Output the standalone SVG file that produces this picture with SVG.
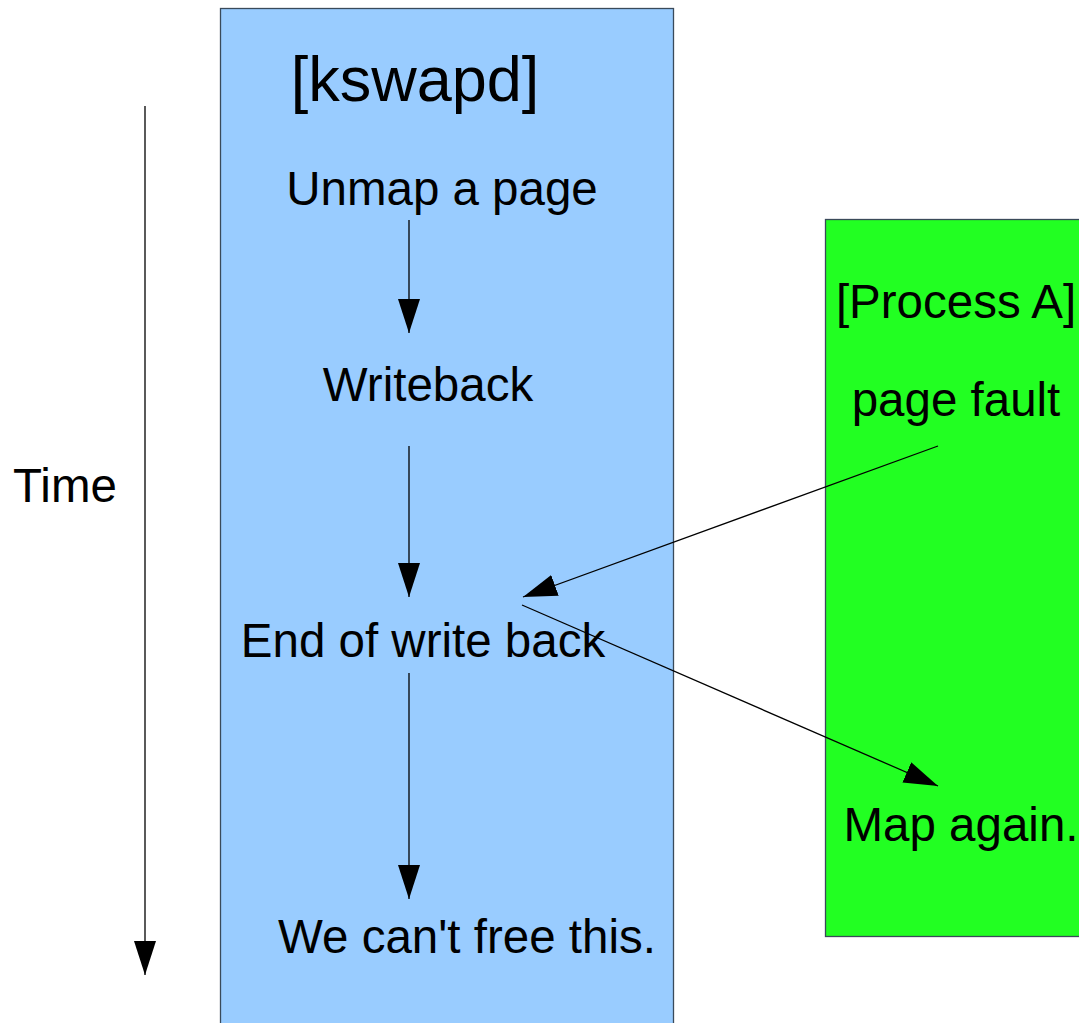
<svg xmlns="http://www.w3.org/2000/svg" width="1079" height="1023" viewBox="0 0 1079 1023">
  <style>
    .lbl { font-family: "Liberation Sans", Arial, sans-serif; font-size: 47.5px; fill: #000; }
    .title { font-size: 63px; }
    .box { stroke: #3a4a5a; stroke-width: 1.3; }
    .conn { stroke: #000; stroke-width: 1.3; fill: none; marker-end: url(#head); }
  </style>
  <defs>
    <marker id="head" markerUnits="userSpaceOnUse" markerWidth="34" markerHeight="22" refX="34" refY="11" orient="auto">
      <path d="M0,0 L34,11 L0,22 Z" fill="#000"/>
    </marker>
  </defs>

  <rect width="1079" height="1023" fill="#fff"/>

  <!-- kswapd lane -->
  <g id="kswapd">
    <rect class="box" x="220.5" y="8.5" width="453" height="1030" fill="#99ccff"/>
    <text class="lbl title" x="415" y="101" text-anchor="middle">[kswapd]</text>
  </g>

  <!-- Process A lane -->
  <g id="process-a">
    <rect class="box" x="825.5" y="219.5" width="270" height="717" fill="#22ff22"/>
    <text class="lbl" x="956" y="318" text-anchor="middle">[Process A]</text>
  </g>

  <g id="time-label"><text class="lbl" x="65" y="502" text-anchor="middle">Time</text></g>
  <g id="unmap"><text class="lbl" x="442" y="205" text-anchor="middle">Unmap a page</text></g>
  <g id="writeback"><text class="lbl" x="428" y="401" text-anchor="middle">Writeback</text></g>
  <g id="end-writeback"><text class="lbl" x="423" y="657" text-anchor="middle">End of write back</text></g>
  <g id="cant-free"><text class="lbl" x="467" y="953" text-anchor="middle">We can't free this.</text></g>
  <g id="page-fault"><text class="lbl" x="956" y="416" text-anchor="middle">page fault</text></g>
  <g id="map-again"><text class="lbl" x="961" y="841" text-anchor="middle">Map again.</text></g>

  <!-- connectors -->
  <g id="connectors">
    <line class="conn" x1="145" y1="106" x2="145" y2="975"/>
    <line class="conn" x1="409" y1="220" x2="409" y2="333"/>
    <line class="conn" x1="409" y1="446" x2="409" y2="597"/>
    <line class="conn" x1="409" y1="673" x2="409" y2="899"/>
    <line class="conn" x1="938" y1="446" x2="523" y2="597"/>
    <line class="conn" x1="522" y1="605" x2="938" y2="786"/>
  </g>
</svg>
